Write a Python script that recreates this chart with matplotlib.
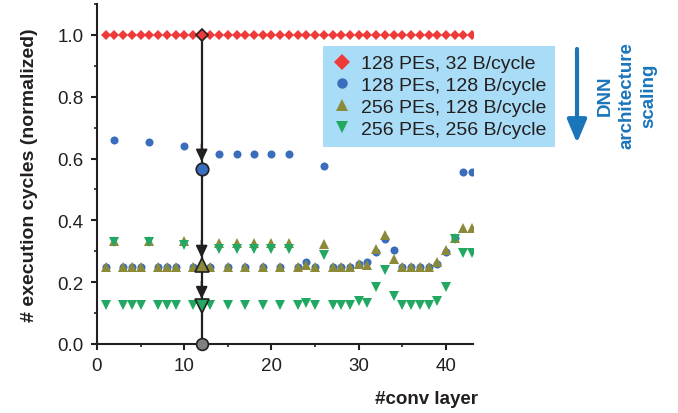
import matplotlib.pyplot as plt
from matplotlib.lines import Line2D
from matplotlib.ticker import MultipleLocator, FormatStrFormatter

plt.rcParams['font.family'] = ['Liberation Sans', 'DejaVu Sans']

# conv layer index
layers = list(range(1, 44))

# normalized execution cycles per configuration
pe128_bw32 = [1.0, 1.0, 1.0, 1.0, 1.0, 1.0, 1.0, 1.0, 1.0, 1.0,
              1.0, 1.0, 1.0, 1.0, 1.0, 1.0, 1.0, 1.0, 1.0, 1.0,
              1.0, 1.0, 1.0, 1.0, 1.0, 1.0, 1.0, 1.0, 1.0, 1.0,
              1.0, 1.0, 1.0, 1.0, 1.0, 1.0, 1.0, 1.0, 1.0, 1.0,
              1.0, 1.0, 1.0]
pe128_bw128 = [0.25, 0.66, 0.25, 0.25, 0.25, 0.655, 0.25, 0.25, 0.25, 0.64,
               0.25, 0.567, 0.25, 0.615, 0.25, 0.615, 0.25, 0.615, 0.25, 0.615,
               0.25, 0.615, 0.25, 0.265, 0.25, 0.575, 0.25, 0.25, 0.25, 0.26,
               0.265, 0.298, 0.341, 0.305, 0.25, 0.25, 0.25, 0.25, 0.26, 0.298,
               0.343, 0.557, 0.557]
pe256_bw128 = [0.25, 0.333, 0.25, 0.25, 0.25, 0.333, 0.25, 0.25, 0.25, 0.332,
               0.25, 0.256, 0.25, 0.326, 0.25, 0.326, 0.25, 0.326, 0.25, 0.326,
               0.25, 0.326, 0.25, 0.255, 0.25, 0.325, 0.25, 0.25, 0.25, 0.26,
               0.257, 0.306, 0.354, 0.276, 0.25, 0.25, 0.25, 0.25, 0.265, 0.305,
               0.343, 0.376, 0.376]
pe256_bw256 = [0.125, 0.33, 0.125, 0.125, 0.125, 0.33, 0.125, 0.125, 0.125, 0.32,
               0.125, 0.123, 0.125, 0.306, 0.125, 0.306, 0.125, 0.306, 0.125, 0.306,
               0.125, 0.306, 0.125, 0.132, 0.125, 0.287, 0.125, 0.125, 0.125, 0.138,
               0.132, 0.186, 0.24, 0.155, 0.127, 0.127, 0.127, 0.127, 0.139, 0.186,
               0.34, 0.295, 0.295]

labels = ['128 PEs, 32 B/cycle', '128 PEs, 128 B/cycle',
          '256 PEs, 128 B/cycle', '256 PEs, 256 B/cycle']
highlight_layer = 12

series = [pe128_bw32, pe128_bw128, pe256_bw128, pe256_bw256]
colors = ['#ee3b3a', '#3a6dbb', '#8b8a39', '#22a862']
markers = ['D', 'o', '^', 'v']
sizes = [5.4, 5.8, 6.6, 6.6]
big_sizes = [6.5, 9.0, 9.5, 9.5]

fig = plt.figure(figsize=(6.78, 4.14), dpi=100)
ax = fig.add_axes([97 / 678, 69 / 414, 376 / 678, 340 / 414])

for vals, c, m, s in zip(series, colors, markers, sizes):
    ax.plot(layers, vals, linestyle='none', marker=m, color=c, markersize=s,
            markeredgewidth=0)

# highlighted layer: drop line, arrows and outlined markers
i = layers.index(highlight_layer)
ax.plot([highlight_layer, highlight_layer], [pe128_bw32[i], 0.0],
        color='#231f20', lw=1.6, zorder=4)
for upper, lower in zip(series[:-1], series[1:]):
    ax.annotate('', xy=(highlight_layer, lower[i]),
                xytext=(highlight_layer, lower[i] + 0.08),
                arrowprops=dict(arrowstyle='-|>,head_length=0.8,head_width=0.38',
                                color='#231f20', lw=1.4, shrinkA=0, shrinkB=5.0,
                                mutation_scale=9),
                zorder=5)
for vals, c, m, s in zip(series, colors, markers, big_sizes):
    ax.plot([highlight_layer], [vals[i]], linestyle='none', marker=m, color=c,
            markersize=s, markeredgecolor='#231f20', markeredgewidth=1.2,
            zorder=6)
ax.plot([highlight_layer], [0.0], marker='o', color='#808080', markersize=8.5,
        markeredgecolor='#231f20', markeredgewidth=1.2, clip_on=False, zorder=6)

ax.set_xlim(0, 43.1)
ax.set_ylim(0, 1.1)
ax.xaxis.set_major_locator(MultipleLocator(10))
ax.xaxis.set_minor_locator(MultipleLocator(5))
ax.yaxis.set_major_locator(MultipleLocator(0.2))
ax.yaxis.set_minor_locator(MultipleLocator(0.1))
ax.yaxis.set_major_formatter(FormatStrFormatter('%.1f'))
for side in ['top', 'right']:
    ax.spines[side].set_visible(False)
for side in ['left', 'bottom']:
    ax.spines[side].set_linewidth(1.5)
    ax.spines[side].set_color('#231f20')
ax.tick_params(which='major', direction='out', length=4.5, width=1.5,
               color='#231f20', labelsize=13.5, labelcolor='#231f20', pad=5)
ax.tick_params(which='minor', direction='out', length=2.5, width=1.2,
               color='#231f20')

ax.set_ylabel('# execution cycles (normalized)', fontsize=14,
              fontweight='bold', color='#231f20', labelpad=14)
fig.text(478 / 678, 1 - 400 / 414, '#conv layer', ha='right', va='center',
         fontsize=13.5, fontweight='bold', color='#231f20')

handles = [Line2D([], [], linestyle='none', marker=m, color=c, markersize=s,
                  markeredgewidth=0)
           for c, m, s in zip(colors, markers, [8.0, 7.5, 8.5, 8.5])]
leg = ax.legend(handles, labels, loc='upper left',
                bbox_to_anchor=(323 / 678, 1 - 47 / 414),
                bbox_transform=fig.transFigure, fontsize=14,
                frameon=True, fancybox=False, facecolor='#a9dcf6',
                edgecolor='none', framealpha=1, borderpad=0.45,
                handlelength=1.05, handletextpad=0.45, labelspacing=0.22,
                borderaxespad=0)
for t in leg.get_texts():
    t.set_color('#231f20')

# architecture scaling arrow
ax.annotate('', xy=(577, 414 - 144), xytext=(577, 414 - 50),
            xycoords='figure pixels', textcoords='figure pixels',
            arrowprops=dict(arrowstyle='-|>,head_length=1.0,head_width=0.42',
                            color='#1b75bb', lw=3, mutation_scale=14,
                            shrinkA=0, shrinkB=0),
            annotation_clip=False)
fig.text(627 / 678, 1 - 96 / 414, 'DNN\narchitecture\nscaling', rotation=90,
         ha='center', va='center', multialignment='center', fontsize=13.5,
         fontweight='bold', color='#1b75bb', linespacing=1.4)

fig.savefig('out.png', dpi=100)
